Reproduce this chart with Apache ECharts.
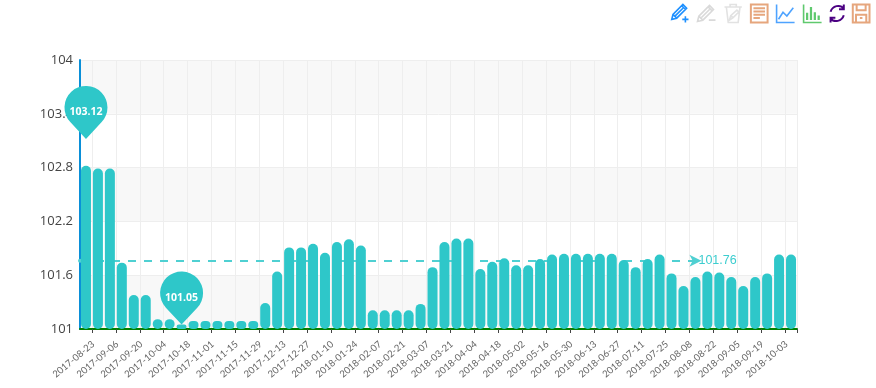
<!DOCTYPE html>
<html><head><meta charset="utf-8">
<style>html,body{margin:0;padding:0;background:#fff}#c{width:876px;height:388px}</style>
<script src="https://cdn.jsdelivr.net/npm/echarts@6/dist/echarts.min.js"></script>
</head><body><div id="c"></div>
<script>
const categories = ['2017-08-16','2017-08-23','2017-08-30','2017-09-06','2017-09-13','2017-09-20','2017-09-27','2017-10-04','2017-10-11','2017-10-18','2017-10-25','2017-11-01','2017-11-08','2017-11-15','2017-11-22','2017-11-29','2017-12-06','2017-12-13','2017-12-20','2017-12-27','2018-01-03','2018-01-10','2018-01-17','2018-01-24','2018-01-31','2018-02-07','2018-02-14','2018-02-21','2018-02-28','2018-03-07','2018-03-14','2018-03-21','2018-03-28','2018-04-04','2018-04-11','2018-04-18','2018-04-25','2018-05-02','2018-05-09','2018-05-16','2018-05-23','2018-05-30','2018-06-06','2018-06-13','2018-06-20','2018-06-27','2018-07-04','2018-07-11','2018-07-18','2018-07-25','2018-08-01','2018-08-08','2018-08-15','2018-08-22','2018-08-29','2018-09-05','2018-09-12','2018-09-19','2018-09-26','2018-10-03'];
const values = [102.82,102.79,102.79,101.74,101.38,101.38,101.11,101.11,101.05,101.09,101.09,101.09,101.09,101.09,101.09,101.29,101.64,101.91,101.91,101.95,101.85,101.97,102.0,101.93,101.21,101.21,101.21,101.21,101.28,101.69,101.97,102.01,102.01,101.67,101.75,101.79,101.71,101.71,101.78,101.83,101.84,101.84,101.84,101.84,101.84,101.77,101.69,101.78,101.83,101.62,101.48,101.58,101.64,101.63,101.58,101.48,101.58,101.62,101.83,101.83];
const maxPin = {date:'2017-08-16', value:103.12};
const minPin = {date:'2017-10-11', value:101.05};
const averageValue = 101.76;
const averageEndDate = '2018-08-08';
const gridLeft = 80;

const pinPath = 'path://M0 31.5L-15.7 14.7A21.5 21.5 0 1 1 15.7 14.7Z';
const arrowPath = 'path://M0 0L6 11L0 8L-6 11Z';
const icons = {
  markAdd:'path://M3 27L5 19L21 3L27 9L11 25ZM5 19L11 25M7 17L17 7M9 21L21 9M19 5L25 11M3 27L8 26M20 27H30M25 22V32',
  markUndo:'path://M3 27L5 19L21 3L27 9L11 25ZM5 19L11 25M7 17L17 7M9 21L21 9M19 5L25 11M20 25H30',
  markClear:'path://M2 5H30M11 5V1H21V5M5 5L8 30H24L27 5M10 26L12 19L22 10L25 13L16 22ZM12 19L16 22',
  dataView:'path://M3 2H29V30H3ZM7 8H25M7 13H25M7 18H25M7 23H17',
  line:'path://M3 1V29H31M6 24L13 13L19 19L29 6',
  bar:'path://M3 1V29H31M8 25V14M14 25V5M20 25V13M26 25V18M9 25V14M15 25V5M21 25V13M27 25V18',
  restore:'path://M5 13C8 3 21 0 27 8M27 1V9H19M27 19C24 29 11 32 5 24M5 31V23H13',
  save:'path://M3 2H29V30H3ZM9 2V11H23V2M8 18H24V30H8ZM14 23H18'
};
function tool(icon, color, w){
  return {show:true, title:'', icon:icon, iconStyle:{color:'none', borderColor:color, borderWidth:w||1.6}, onclick:function(){}};
}
const chart = echarts.init(document.getElementById('c'));
chart.setOption({
  animation:false,
  grid:{left:gridLeft,right:79,top:60,bottom:59,containLabel:false},
  toolbox:{show:true,right:0,top:0,padding:[2,4,0,0],itemSize:18,itemGap:4,
    feature:{
      myMark:tool(icons.markAdd,'#1e90ff'),
      myUndo:tool(icons.markUndo,'#d9d9d9'),
      myClear:tool(icons.markClear,'#e2e2e2'),
      myView:tool(icons.dataView,'#e6a67d',2),
      myLine:tool(icons.line,'#4ea3ff'),
      myBar:tool(icons.bar,'#5fc96e'),
      myRestore:tool(icons.restore,'#4b0082',2),
      mySave:tool(icons.save,'#e6a67d',2)
    }},
  xAxis:{type:'category',data:categories,boundaryGap:true,
    axisLine:{lineStyle:{color:'#008000',width:2}},
    axisTick:{show:true,length:4,lineStyle:{color:'#444'}},
    axisLabel:{interval:function(i){return i%2===1;},rotate:40,fontSize:9.5,color:'#666',margin:10,padding:[0,6,0,0],fontFamily:'Lato'},
    splitLine:{show:true,lineStyle:{color:'#eee',width:1}}},
  yAxis:{type:'value',min:101,max:104,interval:0.6,
    axisLine:{show:true,lineStyle:{color:'#0a8fd8',width:2}},
    axisTick:{show:false},
    axisLabel:{fontSize:13,color:'#444',margin:7,fontFamily:'Open Sans',formatter:function(v){return String(+v.toFixed(1));}},
    splitLine:{show:true,lineStyle:{color:'#eee',width:1}},
    splitArea:{show:true,areaStyle:{color:['#f8f8f8','#fff']}}},
  series:[{type:'bar',data:values,z:2,barWidth:10,
    itemStyle:{color:'#2ec7c9',borderRadius:5},
    markPoint:{symbol:pinPath,symbolSize:[43,53],symbolOffset:[0,'-50%'],symbolKeepAspect:false,z:6,
      itemStyle:{color:'#2ec7c9'},
      label:{color:'#fff',fontSize:10.5,fontWeight:'bold',fontFamily:'Open Sans'},
      data:[{coord:[maxPin.date,maxPin.value],value:maxPin.value},{coord:[minPin.date,minPin.value],value:minPin.value}]},
    markLine:{z:1,silent:true,precision:2,
      lineStyle:{color:'#4fd0d2',type:[8,8],width:2},
      label:{position:'end',color:'#3ccdcf',fontSize:12.5,fontFamily:'Liberation Sans',distance:3,formatter:String(averageValue)},
      data:[[{x:gridLeft,yAxis:averageValue,xAxis:categories[0],symbol:'circle',symbolSize:4},{xAxis:averageEndDate,yAxis:averageValue,symbol:arrowPath,symbolSize:12}]]}
  }]
});
</script></body></html>
